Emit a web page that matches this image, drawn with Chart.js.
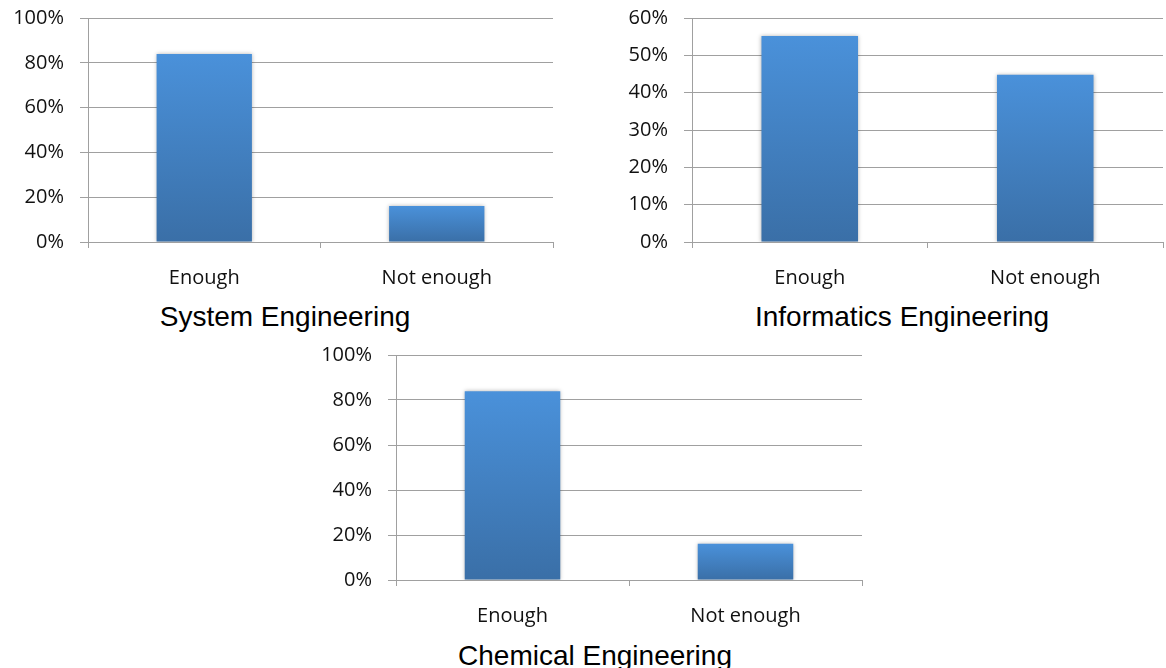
<!DOCTYPE html>
<html>
<head>
<meta charset="utf-8">
<script src="https://cdn.jsdelivr.net/npm/chart.js@4"></script>
<style>
  body { margin: 0; background: #fff; width: 1166px; height: 668px; position: relative; overflow: hidden; }
  .box { position: absolute; }
  .title {
    position: absolute;
    font-family: "Liberation Sans", Arial, sans-serif;
    font-size: 28px;
    color: #000;
    transform: translate(-50%, -50%);
    white-space: nowrap;
  }
</style>
</head>
<body>
<div class="box" style="left:0;top:0;width:572px;height:300px"><canvas id="system"></canvas></div>
<div class="box" style="left:600px;top:0;width:566px;height:300px"><canvas id="informatics"></canvas></div>
<div class="box" style="left:300px;top:337px;width:570px;height:301px"><canvas id="chemical"></canvas></div>
<div class="title" style="left:285px;top:317px">System Engineering</div>
<div class="title" style="left:902px;top:317px">Informatics Engineering</div>
<div class="title" style="left:595px;top:656px">Chemical Engineering</div>

<script>
// данные
const categories = ["Enough", "Not enough"];
const systemValues = [83.9, 16.1];
const informaticsValues = [55.2, 44.8];
const chemicalValues = [83.9, 16.1];

const GRID = "#a0a0a0";

// градиент для каждого столбца: светлый сверху, тёмный снизу
function barGradient(context) {
  const chart = context.chart;
  if (!chart.chartArea || context.type !== "data" || !context.parsed) return "#4788cf";
  const y = chart.scales.y;
  const top = y.getPixelForValue(context.parsed.y);
  const bottom = y.getPixelForValue(0);
  const g = chart.ctx.createLinearGradient(0, top, 0, bottom);
  g.addColorStop(0, "#4a91da");
  g.addColorStop(1, "#3a6fa7");
  return g;
}

// лёгкая тень у столбцов
const shadowPlugin = {
  id: "barShadow",
  beforeDatasetsDraw(chart) {
    const c = chart.ctx;
    c.save();
    c.shadowColor = "rgba(0,0,0,0.3)";
    c.shadowBlur = 4;
  },
  afterDatasetsDraw(chart) {
    chart.ctx.restore();
  },
};

function makeChart(id, values, max, step, yWidth, padRight) {
  const ctx = document.getElementById(id).getContext("2d");
  return new Chart(ctx, {
    type: "bar",
    data: {
      labels: categories,
      datasets: [
        {
          data: values,
          backgroundColor: barGradient,
          borderWidth: 0,
          categoryPercentage: 1,
          barPercentage: 0.41,
        },
      ],
    },
    options: {
      responsive: true,
      maintainAspectRatio: false,
      animation: false,
      layout: { padding: { top: 18, right: padRight, bottom: 0, left: 0 } },
      plugins: { legend: { display: false }, tooltip: { enabled: false } },
      scales: {
        x: {
          afterFit: (s) => {
            s.height = 58;
            s.paddingLeft = 0;
            s.paddingRight = 0;
          },
          grid: { drawOnChartArea: false, drawTicks: true, tickLength: 6, color: GRID, offset: true },
          border: { color: GRID, width: 1 },
          ticks: {
            color: "#111",
            padding: 18,
            font: { family: "Open Sans", size: 20 },
          },
        },
        y: {
          min: 0,
          max: max,
          afterFit: (s) => {
            s.width = yWidth;
            s.paddingTop = 0;
            s.paddingBottom = 0;
          },
          grid: { color: GRID, tickLength: 8, lineWidth: 1 },
          border: { color: GRID, width: 1 },
          ticks: {
            stepSize: step,
            color: "#111",
            padding: 16,
            font: { family: "Open Sans", size: 20 },
            callback: (v) => v + "%",
          },
        },
      },
    },
    plugins: [shadowPlugin],
  });
}

window.addEventListener("load", function () {
  makeChart("system", systemValues, 100, 20, 88, 19);
  makeChart("informatics", informaticsValues, 60, 10, 92, 3);
  makeChart("chemical", chemicalValues, 100, 20, 96, 8);
});
</script>
</body>
</html>
